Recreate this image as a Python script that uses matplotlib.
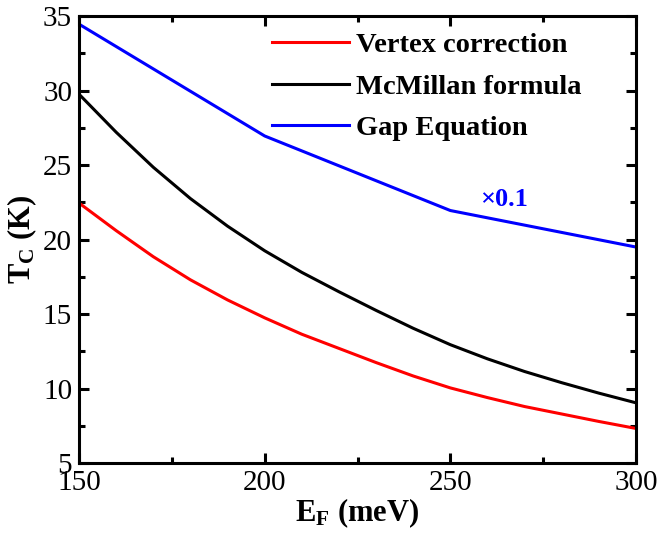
import matplotlib
matplotlib.use("Agg")
import matplotlib.pyplot as plt
from matplotlib.ticker import MultipleLocator

plt.rcParams['font.family'] = ['Liberation Serif', 'DejaVu Serif']
plt.rcParams['mathtext.fontset'] = 'custom'
plt.rcParams['mathtext.rm'] = 'Liberation Serif'
plt.rcParams['mathtext.bf'] = 'Liberation Serif:bold'

# Fermi energy (meV)
ef = [150, 160, 170, 180, 190, 200, 210, 220, 230, 240, 250, 260, 270, 280, 290, 300]
# Tc curves (K)
tc_vertex = [22.45, 20.6, 18.85, 17.3, 15.95, 14.75, 13.65, 12.7, 11.75, 10.85,
             10.05, 9.4, 8.8, 8.3, 7.8, 7.33]
tc_mcmillan = [29.75, 27.2, 24.85, 22.75, 20.9, 19.25, 17.8, 16.5, 15.25, 14.05,
               12.95, 12.0, 11.15, 10.4, 9.7, 9.05]
# gap equation (scaled by 0.1)
ef_gap = [150, 200, 250, 300]
tc_gap = [34.45, 26.95, 21.95, 19.5]

fig = plt.figure(figsize=(6.59, 5.33), dpi=100)
ax = fig.add_axes([0.12, 0.131, 0.845, 0.839])

ax.plot(ef, tc_vertex, color='#ff0000', lw=2.2, label='Vertex correction')
ax.plot(ef, tc_mcmillan, color='black', lw=2.2, label='McMillan formula')
ax.plot(ef_gap, tc_gap, color='#0000ff', lw=2.2, label='Gap Equation')

ax.text(258, 22.7, '×0.1', color='#0000ff', fontsize=19, fontweight='bold',
        ha='left', va='center')

ax.set_xlim(150, 300)
ax.set_ylim(5, 35)
ax.xaxis.set_major_locator(MultipleLocator(50))
ax.xaxis.set_minor_locator(MultipleLocator(25))
ax.yaxis.set_major_locator(MultipleLocator(5))
ax.yaxis.set_minor_locator(MultipleLocator(2.5))
ax.tick_params(which='both', direction='in', top=True, right=True, width=2.2)
ax.tick_params(which='major', length=7, labelsize=21, pad=5)
ax.tick_params(which='minor', length=4)
for s in ax.spines.values():
    s.set_linewidth(2.2)

ax.set_xlabel(r'$\mathbf{E_F}$ (meV)', fontsize=22, fontweight='bold', labelpad=0)
ax.set_ylabel(r'$\mathbf{T_C}$ (K)', fontsize=22, fontweight='bold', labelpad=3)

leg = ax.legend(loc='upper left', bbox_to_anchor=(0.3465, 0.964), frameon=False,
                borderpad=0, borderaxespad=0, handlelength=2.7, handletextpad=0.25,
                labelspacing=0.55, prop={'size': 20.5, 'weight': 'bold'})

fig.savefig('out.png', dpi=100)
